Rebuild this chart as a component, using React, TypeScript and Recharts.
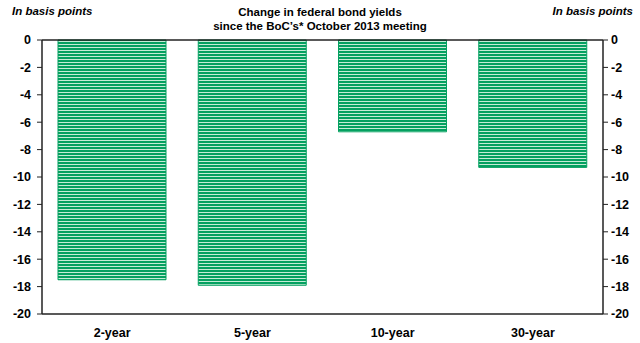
import React from 'react';
import { BarChart, Bar, XAxis, YAxis, ReferenceLine } from 'recharts';

const maturities = ['2-year', '5-year', '10-year', '30-year'];
const yieldChange = [-17.5, -17.9, -6.7, -9.3];
const yTicks = [0, -2, -4, -6, -8, -10, -12, -14, -16, -18, -20];

const data = maturities.map((m, i) => ({ name: m, value: yieldChange[i] }));

const font = 'Arial, "Liberation Sans", sans-serif';
const tickStyle = { fill: '#000', fontSize: 12.5, fontWeight: 'bold', fontFamily: font };
const margin = { top: 40, right: 0, left: 0, bottom: 0 };
const axisStroke = { stroke: '#222', strokeWidth: 1.5 };

export default function App() {
  return (
    <div style={{ position: 'absolute', left: 0, top: 0, width: 640, height: 343, background: '#fff', fontFamily: font }}>
      <div style={{ position: 'absolute', left: 12, top: 5, fontSize: 11.5, fontWeight: 'bold', fontStyle: 'italic' }}>
        In basis points
      </div>
      <div style={{ position: 'absolute', right: 7, top: 5, fontSize: 11.5, fontWeight: 'bold', fontStyle: 'italic' }}>
        In basis points
      </div>
      <div style={{ position: 'absolute', left: 0, width: 640, top: 5, textAlign: 'center', fontSize: 11.5, fontWeight: 'bold', lineHeight: '14px' }}>
        Change in federal bond yields
        <br />
        since the BoC’s* October 2013 meeting
      </div>
      <div style={{ position: 'absolute', left: 0, top: 0 }}>
        <BarChart width={640} height={343} data={data} margin={margin} barCategoryGap={16}>
          <defs>
            <pattern id="stripes" width="4" height="3" patternUnits="userSpaceOnUse">
              <rect x="0" y="0" width="4" height="3" fill="#c4ecd6" />
              <rect x="0" y="0" width="4" height="2" fill="#04a060" />
            </pattern>
          </defs>
          <XAxis
            dataKey="name"
            axisLine={axisStroke}
            tickLine={false}
            tick={tickStyle}
            tickMargin={8}
            height={29}
          />
          <YAxis
            orientation="left"
            domain={[-20, 0]}
            ticks={yTicks}
            interval={0}
            width={42}
            axisLine={axisStroke}
            tickLine={{ stroke: '#222' }}
            tickSize={5}
            tickMargin={6}
            tick={tickStyle}
          />
          <YAxis yAxisId="spacer" orientation="right" width={37} domain={[-20, 0]} tick={false} axisLine={false} tickLine={false} />
          <ReferenceLine y={0} stroke="#222" strokeWidth={1.5} />
          <Bar dataKey="value" fill="url(#stripes)" stroke="#04a060" strokeWidth={1} isAnimationActive={false} />
        </BarChart>
      </div>
      <div style={{ position: 'absolute', left: 0, top: 0 }}>
        <BarChart width={640} height={343} data={data} margin={margin} barCategoryGap={16}>
          <XAxis dataKey="name" height={29} tick={false} axisLine={false} tickLine={false} />
          <YAxis yAxisId="spacer" orientation="left" width={42} domain={[-20, 0]} tick={false} axisLine={false} tickLine={false} />
          <YAxis
            orientation="right"
            domain={[-20, 0]}
            ticks={yTicks}
            interval={0}
            width={37}
            axisLine={axisStroke}
            tickLine={{ stroke: '#222' }}
            tickSize={5}
            tickMargin={3}
            tick={tickStyle}
          />
          <Bar dataKey="value" fill="none" isAnimationActive={false} />
        </BarChart>
      </div>
    </div>
  );
}
